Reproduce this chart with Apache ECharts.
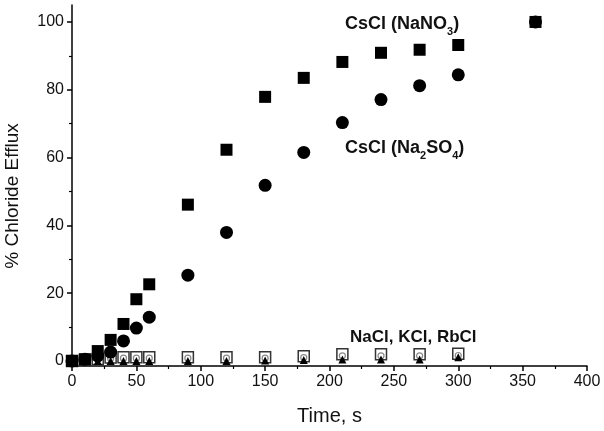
<!DOCTYPE html>
<html><head><meta charset="utf-8">
<script src="https://cdn.jsdelivr.net/npm/echarts@6/dist/echarts.min.js"></script>
<style>html,body{margin:0;padding:0;background:#fff}#c{width:604px;height:431px}</style>
</head><body><div id="c"></div>
<script>
const times = [0, 10, 20, 30, 40, 50, 60, 90, 120, 150, 180, 210, 240, 270, 300, 360];
const csclNaNO3 = [0, 0.5, 2.9, 6.2, 10.9, 18.2, 22.6, 46.1, 62.3, 77.9, 83.5, 88.2, 90.9, 91.8, 93.2, 100];
const csclNa2SO4 = [0, 0.5, 1.5, 2.6, 5.9, 9.7, 12.9, 25.3, 37.9, 51.8, 61.5, 70.3, 77.1, 81.2, 84.4, 100];
const lowTimes = [0, 10, 20, 30, 40, 50, 60, 90, 120, 150, 180, 210, 240, 270, 300];
const naclVals = [0, 0.3, 0.6, 1.0, 1.1, 1.1, 1.1, 1.1, 1.1, 1.1, 1.4, 2.0, 2.0, 2.0, 2.1];
const kclVals  = [0, 0.2, 0.4, 0.7, 0.8, 0.8, 0.8, 0.8, 0.8, 0.8, 1.0, 1.5, 1.5, 1.5, 1.6];
const rbclVals = [0, 0, 0, 0, 0, 0, 0, 0, 0, 0.1, 0.3, 0.4, 0.4, 0.4, 1.1];
const xTicks = [0, 50, 100, 150, 200, 250, 300, 350, 400];
const yTicks = [0, 20, 40, 60, 80, 100];
const yMinorTicks = [10, 30, 50, 70, 90];

const pair = (xs, ys) => xs.map((x, i) => [x, ys[i]]);
const chart = echarts.init(document.getElementById('c'));
const F = '"Liberation Sans", Arial, sans-serif';
const yBase = {
  type: 'value', min: -1.5, max: 105, position: 'left',
  axisLine: {show: true, onZero: false, lineStyle: {color: '#000', width: 1.5}},
  splitLine: {show: false}
};
const subRich = {
  m: {fontSize: 18, fontWeight: 'bold', fontFamily: F, fill: '#111', lineHeight: 22, verticalAlign: 'top'},
  s: {fontSize: 11, fontWeight: 'bold', fontFamily: F, fill: '#111', lineHeight: 22, verticalAlign: 'bottom', padding: [9,0,0,0]}
};
chart.setOption({
  animation: false,
  grid: {left: 72, right: 17, top: 5, bottom: 64},
  xAxis: {
    type: 'value', min: 0, max: 400, interval: 50,
    axisLine: {onZero: false, lineStyle: {color: '#000', width: 1.5}},
    axisTick: {inside: false, length: 5, lineStyle: {color: '#000', width: 1.5}},
    minorTick: {show: true, splitNumber: 2, length: 3, lineStyle: {color: '#000', width: 1.2}},
    axisLabel: {color: '#111', fontSize: 16, fontFamily: F, margin: 8, customValues: xTicks},
    splitLine: {show: false},
    name: 'Time, s', nameLocation: 'middle', nameGap: 40,
    nameTextStyle: {color: '#111', fontSize: 20, fontFamily: F}
  },
  yAxis: [
    Object.assign({}, yBase, {
      axisTick: {show: true, length: 5, customValues: yTicks, lineStyle: {color: '#000', width: 1.5}},
      axisLabel: {color: '#111', fontSize: 16, fontFamily: F, margin: 8, customValues: yTicks}
    }),
    Object.assign({}, yBase, {
      axisLine: {show: false},
      axisTick: {show: true, length: 3, customValues: yMinorTicks, lineStyle: {color: '#000', width: 1.2}},
      axisLabel: {show: false}
    })
  ],
  series: [
    {type: 'scatter', name: 'NaCl', data: pair(lowTimes, naclVals), symbol: 'rect', symbolSize: 11,
      itemStyle: {color: '#fff', borderColor: '#333', borderWidth: 1.5, opacity: 1}},
    {type: 'scatter', name: 'KCl', data: pair(lowTimes, kclVals), symbol: 'circle', symbolSize: 6,
      itemStyle: {color: '#fff', borderColor: '#888', borderWidth: 1.2, opacity: 1}},
    {type: 'scatter', name: 'RbCl', data: pair(lowTimes, rbclVals), symbol: 'triangle', symbolSize: 8,
      itemStyle: {color: '#000', opacity: 1}},
    {type: 'scatter', name: 'CsCl (Na2SO4)', data: pair(times, csclNa2SO4), symbol: 'circle', symbolSize: 13,
      itemStyle: {color: '#000', opacity: 1}},
    {type: 'scatter', name: 'CsCl (NaNO3)', data: pair(times, csclNaNO3), symbol: 'rect', symbolSize: 12,
      itemStyle: {color: '#000', opacity: 1}}
  ],
  graphic: [
    {type: 'text', x: 13, y: 196, rotation: Math.PI / 2, style: {
      text: '% Chloride Efflux', fontSize: 19, fontFamily: F, fill: '#111',
      align: 'center', verticalAlign: 'middle'}},
    {type: 'text', left: 345, top: 15, style: {text: '{m|CsCl (NaNO}{s|3}{m|)}', rich: subRich}},
    {type: 'text', left: 345, top: 139, style: {text: '{m|CsCl (Na}{s|2}{m|SO}{s|4}{m|)}', rich: subRich}},
    {type: 'text', left: 350, top: 329, style: {
      text: 'NaCl, KCl, RbCl', fontSize: 17, fontWeight: 'bold', fontFamily: F, fill: '#111'}}
  ]
});
</script></body></html>
